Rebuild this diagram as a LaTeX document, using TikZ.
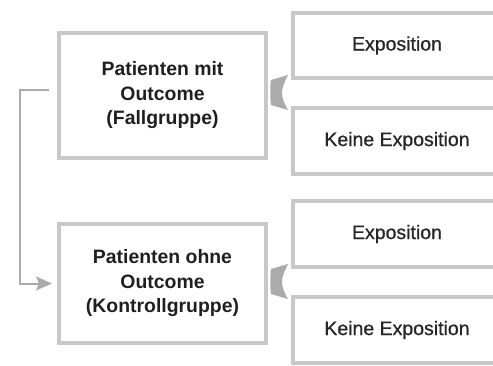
\documentclass[tikz,border=0pt]{standalone}
\usepackage{fontspec}
\setmainfont{Liberation Sans}
\newfontfamily\medfont{Liberation Sans}[FakeBold=0.8]
\usetikzlibrary{positioning,calc,arrows.meta}
\definecolor{boxgray}{HTML}{C8C8C8}
\definecolor{tipgray}{HTML}{ABABAB}
\newcommand{\widetip}[1]{\fill[tipgray, shift={(#1)}] (3,13) -- (20,18) .. controls (16,10) and (14,5) .. (14,0) .. controls (14,-5) and (16,-10) .. (20,-17) -- (3,-12) .. controls (2,-6) and (2,6) .. cycle;}

\begin{document}
\begin{tikzpicture}[x=1pt,y=1pt,
	lbox/.style={draw=boxgray, line width=4pt, minimum width=207pt, align=center, font=\fontsize{19.4}{24.5}\selectfont\bfseries, text=black!88},
	rbox/.style={draw=boxgray, line width=4pt, minimum width=208pt, minimum height=66pt, font=\fontsize{19.5}{24}\medfont, text=black!85},
	link/.style={tipgray, line width=2pt, -{Stealth[length=16pt,width=14pt,inset=3pt]}}]
	\useasboundingbox (0,0) rectangle (493,365);
	\clip (0,0) rectangle (493,365);

	\node[lbox, minimum height=125pt] (a1) at (162.5,269.5) {Patienten mit\\Outcome\\(Fallgruppe)};
	\node[lbox, minimum height=119pt, below=62pt of a1] (a2) {Patienten ohne\\Outcome\\(Kontrollgruppe)};
	\node[rbox, minimum height=65pt] (b1) at (397,319.5) {Exposition};
	\node[rbox, below=26pt of b1] (b2) {Keine Exposition};
	\node[rbox, below=23pt of b2] (b3) {Exposition};
	\node[rbox, below=26pt of b3] (b4) {Keine Exposition};

	\coordinate (g1) at ($(b1.south west)!0.5!(b2.north west)$);
	\coordinate (g2) at ($(b3.south west)!0.5!(b4.north west)$);
	\widetip{g1 -| a1.east}
	\widetip{g2 -| a2.east}
	\draw[link, shorten <=8pt, shorten >=5pt] ([yshift=5pt]a1.west) -- ++(-37pt,0) |- (a2.west);
\end{tikzpicture}
\end{document}
